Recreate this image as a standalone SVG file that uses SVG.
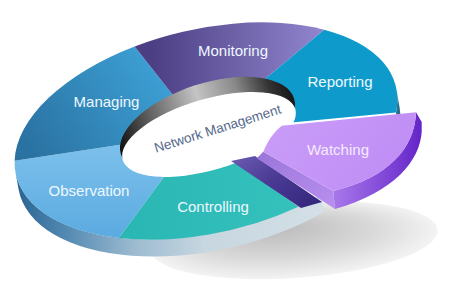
<svg xmlns="http://www.w3.org/2000/svg" width="450" height="300" viewBox="0 0 450 300">
<defs>
  <style>
    .lbl { font-family: "Liberation Sans", Arial, sans-serif; font-size: 15px; fill: #eef8ff; text-anchor: middle; }
    .center { font-family: "Liberation Sans", Arial, sans-serif; font-size: 13.5px; fill: #55698c; text-anchor: middle; }
  </style>
  <radialGradient id="shadowG" cx="0.5" cy="0.5" r="0.5" fx="0.42" fy="0.3">
    <stop offset="0" stop-color="#b9b9b9"/>
    <stop offset="0.6" stop-color="#d8d8d8"/>
    <stop offset="1" stop-color="#f3f3f3"/>
  </radialGradient>
  <linearGradient id="sideG" gradientUnits="userSpaceOnUse" x1="15" y1="0" x2="330" y2="0">
    <stop offset="0" stop-color="#2a6390"/>
    <stop offset="0.15" stop-color="#4f87b0"/>
    <stop offset="0.38" stop-color="#9dbbd0"/>
    <stop offset="0.6" stop-color="#c7d6e0"/>
    <stop offset="1" stop-color="#d5e0e7"/>
  </linearGradient>
  <linearGradient id="manG" gradientUnits="userSpaceOnUse" x1="190" y1="60" x2="40" y2="165">
    <stop offset="0" stop-color="#40a8de"/>
    <stop offset="1" stop-color="#2a72a2"/>
  </linearGradient>
  <linearGradient id="monG" gradientUnits="userSpaceOnUse" x1="150" y1="0" x2="320" y2="0">
    <stop offset="0" stop-color="#4b3e83"/>
    <stop offset="1" stop-color="#9084cd"/>
  </linearGradient>
  <linearGradient id="obsG" gradientUnits="userSpaceOnUse" x1="0" y1="145" x2="0" y2="240">
    <stop offset="0" stop-color="#7cc0ec"/>
    <stop offset="1" stop-color="#5aaae0"/>
  </linearGradient>
  <linearGradient id="conG" gradientUnits="userSpaceOnUse" x1="120" y1="0" x2="300" y2="0">
    <stop offset="0" stop-color="#2ab6b3"/>
    <stop offset="1" stop-color="#35c2bd"/>
  </linearGradient>
  <linearGradient id="wallG" gradientUnits="userSpaceOnUse" x1="118" y1="0" x2="296" y2="0">
    <stop offset="0" stop-color="#111111"/>
    <stop offset="0.18" stop-color="#555555"/>
    <stop offset="0.5" stop-color="#c4c4c4"/>
    <stop offset="0.72" stop-color="#8a8a8a"/>
    <stop offset="0.9" stop-color="#333333"/>
    <stop offset="1" stop-color="#1a1a1a"/>
  </linearGradient>
  <linearGradient id="wSideG" gradientUnits="userSpaceOnUse" x1="335" y1="0" x2="422" y2="0">
    <stop offset="0" stop-color="#a777ea"/>
    <stop offset="1" stop-color="#6424c8"/>
  </linearGradient>
  <linearGradient id="wFaceG" gradientUnits="userSpaceOnUse" x1="280" y1="115" x2="380" y2="190">
    <stop offset="0" stop-color="#c99cf8"/>
    <stop offset="1" stop-color="#c08ef5"/>
  </linearGradient>
  <linearGradient id="bandG" gradientUnits="userSpaceOnUse" x1="260" y1="150" x2="335" y2="205">
    <stop offset="0" stop-color="#9a76d8"/>
    <stop offset="1" stop-color="#b88ef0"/>
  </linearGradient>
  <linearGradient id="stripG" gradientUnits="userSpaceOnUse" x1="250" y1="150" x2="300" y2="215">
    <stop offset="0" stop-color="#6656ac"/>
    <stop offset="0.45" stop-color="#4a3a94"/>
    <stop offset="1" stop-color="#35277e"/>
  </linearGradient>
</defs>

<g id="shadow">
  <ellipse cx="294" cy="240" rx="144" ry="38" transform="rotate(-4 294 240)" fill="url(#shadowG)"/>
</g>

<g id="ring-side">
  <path d="M15.5,172.1 A195 102 -13 0 0 320.9,195.1 L323.9,212.1 A195 102 -13 0 1 18.5,189.1 Z" fill="url(#sideG)"/>
  <path d="M396.5,89.9 A195 102 -13 0 1 396,112.4 L399,129.4 A195 102 -13 0 0 399.5,106.9 Z" fill="#2a6f8e"/>
</g>

<g id="seg-observation">
  <path d="M164.7,176 L118.8,237.9 A195 102 -13 0 1 14.6,160.7 L120.2,144.7 L207.5,126.5 Z" fill="url(#obsG)"/>
</g>
<g id="seg-managing">
  <path d="M120.2,144.7 L14.6,160.7 A195 102 -13 0 1 134.6,46.4 L172.3,94.3 L207.5,126.5 Z" fill="url(#manG)"/>
</g>
<g id="seg-monitoring">
  <path d="M172.3,94.3 L134.6,46.4 A195 102 -13 0 1 324.1,29.7 L265.3,78.7 L207.5,126.5 Z" fill="url(#monG)"/>
</g>
<g id="seg-reporting">
  <path d="M265.3,78.7 L324.1,29.7 A195 102 -13 0 1 396,112.4 L289.1,122.7 L207.5,126.5 Z" fill="#0e9bcb"/>
</g>
<g id="seg-controlling">
  <path d="M235.6,161.9 L298.5,206.8 A195 102 -13 0 1 118.8,237.9 L164.7,176 L207.5,126.5 Z" fill="url(#conG)"/>
</g>

<g id="hub">
  <ellipse cx="207.5" cy="126.5" rx="91" ry="43" transform="rotate(-18 207.5 126.5)" fill="url(#wallG)"/>
  <ellipse cx="209" cy="134.5" rx="90" ry="35.5" transform="rotate(-16.4 209 134.5)" fill="#ffffff"/>
  <text class="center" x="219" y="133" transform="rotate(-17.5 219 133)">Network Management</text>
</g>

<g id="seg-watching">
  <path d="M231,161 L255,156 L322,202 L301,208 Z" fill="url(#stripG)"/>
  <path d="M263.3,151.7 L333.3,191 L335,209 L256.7,158.3 Z" fill="url(#bandG)"/>
  <path d="M416,112.3 L421.7,122 L421.7,131.7 C420,160 395,192 335,209 L333.3,191 C388,178 415,148 416,112.3 Z" fill="url(#wSideG)"/>
  <path d="M281.7,125.7 L416,112.3 C415,148 388,178 333.3,191 L263.3,151.7 C268,140 274,132 281.7,125.7 Z" fill="url(#wFaceG)"/>
  <text class="lbl" x="338" y="155" style="fill:#f6eaff">Watching</text>
</g>

<g id="labels">
  <text class="lbl" x="233" y="56">Monitoring</text>
  <text class="lbl" x="340" y="87">Reporting</text>
  <text class="lbl" x="106.5" y="107">Managing</text>
  <text class="lbl" x="89" y="196">Observation</text>
  <text class="lbl" x="213" y="212">Controlling</text>
</g>
<g id="connectors"/>
</svg>
